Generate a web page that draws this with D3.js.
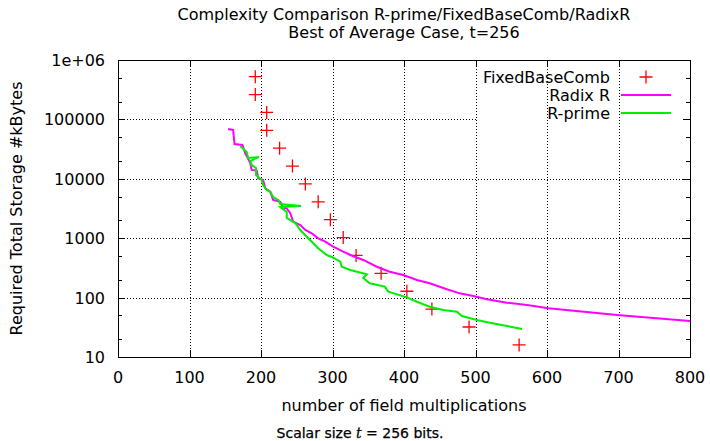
<!DOCTYPE html>
<html lang="en">
<head>
<meta charset="UTF-8">
<title>Complexity Comparison</title>
<script src="https://cdn.jsdelivr.net/npm/d3@7"></script>
<style>
    body { margin: 0; background: #fff; }
    svg { display: block; font-family: "DejaVu Sans", sans-serif; }
</style>
</head>
<body>
<script>
    // FixedBaseComb points (multiplications, kBytes)
    var fbcX = [192, 192, 208, 208, 226, 244, 262, 280, 297, 315, 333, 368, 404, 439, 491, 561];
    var fbcY = [524288, 262144, 131072, 65536, 32768, 16384, 8192, 4096, 2048, 1024, 512, 256, 128, 64, 32, 16];

    // Radix R curve
    var radixX = [154, 161, 163, 174, 178, 185, 187, 194, 196, 203, 206, 213, 217, 227, 231, 236, 241, 245, 255, 262,
        271, 280, 290, 301, 315, 325, 343, 362, 380, 399, 418, 436, 460, 478, 497, 516, 544, 572, 602, 698, 800];
    var radixY = [68900, 66400, 38500, 37100, 26900, 18450, 14100, 13700, 10200, 9550, 6920, 6070, 4400, 4110, 3220, 3180,
        2630, 1900, 1670, 1375, 1210, 996, 873, 719, 593, 521, 430, 331, 273, 240, 198, 174, 138, 118, 106, 93.5, 82, 75, 66, 51, 40.4];

    // R-prime curve
    var rprimeX = [171, 180, 182, 197, 185, 187, 193, 193, 201, 203, 208, 213, 217, 224, 227, 256, 227, 236, 236, 248,
        255, 264, 271, 280, 292, 299, 311, 313, 325, 348, 343, 352, 373, 378, 404, 418, 436, 455, 474, 481, 502, 520, 544, 565];
    var rprimeY = [35650, 28250, 22400, 23300, 19950, 17070, 15200, 11590, 9550, 7870, 6480, 6000, 4940, 4400, 3770, 3480,
        3350, 2760, 2190, 1800, 1375, 1060, 873, 676, 521, 483, 402, 331, 292, 247, 214, 174, 153, 126, 101, 85.3, 70.3, 61.8, 57.9, 49, 42, 37.8, 33.3, 29.6];

    var xTicks = [0, 100, 200, 300, 400, 500, 600, 700, 800];
    var yTicks = [10, 100, 1000, 10000, 100000, 1000000];
    var yTickLabels = ["10", "100", "1000", "10000", "100000", "1e+06"];

    var W = 710, H = 441;
    var plotL = 118, plotR = 690, plotT = 60, plotB = 357;
    var fs = 16;

    var svg = d3.select("body").append("svg")
        .attr("width", W)
        .attr("height", H);

    var x = d3.scaleLinear().domain([0, 800]).range([plotL, plotR]);
    var y = d3.scaleLog().domain([10, 1000000]).range([plotB, plotT]);

    // minor log ticks at 2x and 5x
    var yMinor = [];
    yTicks.forEach(function (t) {
        if (t < 1000000) { yMinor.push(t * 2); yMinor.push(t * 5); }
    });

    // grid: horizontal first, then the opaque key box hides part of it, then vertical
    var grid = svg.append("g").attr("stroke", "#000").attr("stroke-dasharray", "1,2").attr("stroke-width", 1);
    grid.selectAll("line.gy").data(yTicks.slice(1, -1)).enter().append("line")
        .attr("y1", function (d) { return Math.round(y(d)) + 0.5; })
        .attr("y2", function (d) { return Math.round(y(d)) + 0.5; })
        .attr("x1", plotL).attr("x2", plotR);
    svg.append("rect")
        .attr("x", 478).attr("y", 66).attr("width", 205).attr("height", 58)
        .attr("fill", "#fff");
    var gridV = svg.append("g").attr("stroke", "#000").attr("stroke-dasharray", "1,2").attr("stroke-width", 1);
    gridV.selectAll("line.gx").data(xTicks.slice(1, -1)).enter().append("line")
        .attr("x1", function (d) { return Math.round(x(d)) + 0.5; })
        .attr("x2", function (d) { return Math.round(x(d)) + 0.5; })
        .attr("y1", plotT).attr("y2", plotB);

    // ticks, inward, mirrored
    var ticks = svg.append("g").attr("stroke", "#000").attr("stroke-width", 1);
    xTicks.forEach(function (d) {
        var px = Math.round(x(d)) + 0.5;
        ticks.append("line").attr("x1", px).attr("x2", px).attr("y1", plotB).attr("y2", plotB - 7);
        ticks.append("line").attr("x1", px).attr("x2", px).attr("y1", plotT).attr("y2", plotT + 7);
    });
    yTicks.forEach(function (d) {
        var py = Math.round(y(d)) + 0.5;
        ticks.append("line").attr("x1", plotL).attr("x2", plotL + 7).attr("y1", py).attr("y2", py);
        ticks.append("line").attr("x1", plotR).attr("x2", plotR - 7).attr("y1", py).attr("y2", py);
    });
    yMinor.forEach(function (d) {
        var py = Math.round(y(d)) + 0.5;
        ticks.append("line").attr("x1", plotL).attr("x2", plotL + 4).attr("y1", py).attr("y2", py);
        ticks.append("line").attr("x1", plotR).attr("x2", plotR - 4).attr("y1", py).attr("y2", py);
    });

    // tick labels
    svg.append("g").selectAll("text").data(xTicks).enter().append("text")
        .attr("x", function (d) { return x(d); })
        .attr("y", plotB + 26)
        .attr("text-anchor", "middle")
        .attr("font-size", fs)
        .text(function (d) { return d; });
    svg.append("g").selectAll("text").data(yTicks).enter().append("text")
        .attr("x", plotL - 13)
        .attr("y", function (d) { return y(d) + 6; })
        .attr("text-anchor", "end")
        .attr("font-size", fs)
        .text(function (d, i) { return yTickLabels[i]; });

    // FixedBaseComb crosses
    var fbc = fbcX.map(function (v, i) { return [v, fbcY[i]]; });
    var crossSize = 6.5;
    svg.append("g").attr("stroke", "#ff0000").attr("stroke-width", 1.3)
        .selectAll("path").data(fbc).enter().append("path")
        .attr("d", function (d) {
            var cx = x(d[0]), cy = y(d[1]);
            return "M" + (cx - crossSize) + "," + cy + "H" + (cx + crossSize) +
                "M" + cx + "," + (cy - crossSize) + "V" + (cy + crossSize);
        });

    var line = d3.line()
        .x(function (d) { return x(d[0]); })
        .y(function (d) { return y(d[1]); });

    var radix = radixX.map(function (v, i) { return [v, radixY[i]]; });
    var rprime = rprimeX.map(function (v, i) { return [v, rprimeY[i]]; });

    svg.append("path").datum(radix)
        .attr("d", line)
        .attr("fill", "none")
        .attr("stroke", "#ff00ff")
        .attr("stroke-width", 2);
    svg.append("path").datum(rprime)
        .attr("d", line)
        .attr("fill", "none")
        .attr("stroke", "#00ee00")
        .attr("stroke-width", 2);

    // border
    svg.append("rect")
        .attr("x", plotL + 0.5).attr("y", plotT + 0.5)
        .attr("width", plotR - plotL).attr("height", plotB - plotT)
        .attr("fill", "none").attr("stroke", "#000").attr("stroke-width", 1);

    // legend
    var legendItems = ["FixedBaseComb", "Radix R", "R-prime"];
    var legendColors = ["#ff0000", "#ff00ff", "#00ee00"];
    var lg = svg.append("g");
    legendItems.forEach(function (name, i) {
        var ly = 77 + i * 18;
        lg.append("text")
            .attr("x", 610).attr("y", ly + 6)
            .attr("text-anchor", "end")
            .attr("font-size", fs)
            .text(name);
        if (i === 0) {
            lg.append("path")
                .attr("d", "M" + (646 - crossSize) + "," + ly + "H" + (646 + crossSize) +
                    "M646," + (ly - crossSize) + "V" + (ly + crossSize))
                .attr("stroke", legendColors[i]).attr("stroke-width", 1.3);
        } else {
            lg.append("line")
                .attr("x1", 621).attr("x2", 671).attr("y1", ly).attr("y2", ly)
                .attr("stroke", legendColors[i]).attr("stroke-width", 2);
        }
    });

    // titles
    svg.append("text").attr("x", (plotL + plotR) / 2).attr("y", 20)
        .attr("text-anchor", "middle").attr("font-size", fs)
        .text("Complexity Comparison R-prime/FixedBaseComb/RadixR");
    svg.append("text").attr("x", (plotL + plotR) / 2).attr("y", 38)
        .attr("text-anchor", "middle").attr("font-size", fs)
        .text("Best of Average Case, t=256");

    svg.append("text").attr("x", (plotL + plotR) / 2).attr("y", 411)
        .attr("text-anchor", "middle").attr("font-size", fs)
        .text("number of field multiplications");

    svg.append("text")
        .attr("transform", "translate(22," + ((plotT + plotB) / 2) + ") rotate(-90)")
        .attr("text-anchor", "middle").attr("font-size", fs)
        .text("Required Total Storage #kBytes");

    // caption
    var cap = svg.append("text").attr("x", 360).attr("y", 438)
        .attr("text-anchor", "middle").attr("font-size", 14)
        .attr("font-family", "DejaVu Sans, sans-serif")
        .attr("stroke", "#000").attr("stroke-width", 0.25);
    cap.append("tspan").text("Scalar size ");
    cap.append("tspan").attr("font-style", "italic").attr("font-family", "DejaVu Serif, serif").text("t");
    cap.append("tspan").text(" = 256 bits.");
</script>
</body>
</html>
